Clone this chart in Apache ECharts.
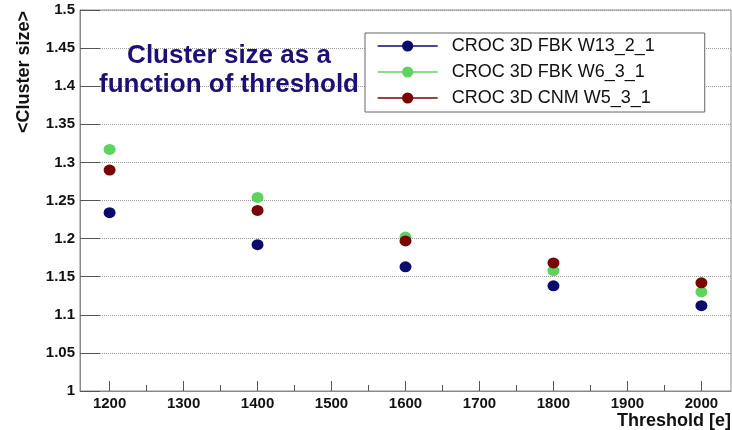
<!DOCTYPE html>
<html><head><meta charset="utf-8">
<script src="https://cdn.jsdelivr.net/npm/echarts@6/dist/echarts.min.js"></script>
<style>html,body{margin:0;padding:0;background:#fff}#c{width:732px;height:430px}</style>
</head><body><div id="c"></div>
<script>
const thresholds = [1200, 1400, 1600, 1800, 2000];
const seriesNames = ['CROC 3D FBK W13_2_1', 'CROC 3D FBK W6_3_1', 'CROC 3D CNM W5_3_1'];
const fbkW13 = [1.234, 1.192, 1.163, 1.138, 1.112];
const fbkW6 = [1.317, 1.254, 1.202, 1.158, 1.130];
const cnmW5 = [1.290, 1.237, 1.197, 1.168, 1.142];
const xMajorTicks = [1200, 1300, 1400, 1500, 1600, 1700, 1800, 1900, 2000];
const xMinorTicks = [1250, 1350, 1450, 1550, 1650, 1750, 1850, 1950];
const colors = ['#0b0b6e', '#5fd35f', '#7a0505'];
const font = '"Liberation Sans", Arial, sans-serif';

const chart = echarts.init(document.getElementById('c'));
const seriesData = [fbkW13, fbkW6, cnmW5];
const series = seriesData.map((vals, i) => ({
  name: seriesNames[i],
  type: 'line',
  xAxisIndex: 0,
  data: thresholds.map((t, j) => [t, vals[j]]),
  symbol: 'circle',
  symbolSize: [12, 11],
  itemStyle: { color: colors[i] },
  lineStyle: { color: colors[i], width: 1.3, opacity: 0 },
  z: 5 + (i === 1 ? 0 : i),
  animation: false
}));

chart.setOption({
  animation: false,
  grid: { left: 80, right: 1, top: 10, bottom: 39, show: true, borderColor: '#8a8a8a', borderWidth: 1, backgroundColor: 'transparent' },
  title: {
    text: 'Cluster size as a\nfunction of threshold',
    left: 224, top: 36, textAlign: 'center',
    textStyle: { fontFamily: font, fontWeight: 'bold', fontSize: 26, lineHeight: 29, color: '#1b1076' }
  },
  legend: {
    orient: 'vertical', left: 365, top: 33,
    padding: [4, 50, 5, 12],
    itemWidth: 60, itemHeight: 14, itemGap: 8,
    backgroundColor: '#fff', borderColor: '#666', borderWidth: 1,
    data: seriesNames,
    itemStyle: { borderWidth: 0 },
    lineStyle: { opacity: 1, width: 1.3, type: 'solid' },
    textStyle: { fontFamily: font, fontSize: 18, color: '#111', padding: [0, 0, 0, 9] },
    z: 10
  },
  xAxis: [{
    type: 'value', min: 1160, max: 2040,
    axisLine: { show: true, lineStyle: { color: '#8a8a8a', width: 1 } },
    axisTick: { show: true, inside: true, length: 10, customValues: xMajorTicks, lineStyle: { color: '#555' } },
    axisLabel: { customValues: xMajorTicks, formatter: v => String(v), fontFamily: font, fontWeight: 'bold', fontSize: 15, color: '#111', margin: 5 },
    splitLine: { show: false }
  }, {
    type: 'value', min: 1160, max: 2040, position: 'bottom',
    axisLine: { show: false },
    axisTick: { show: true, inside: true, length: 6, customValues: xMinorTicks, lineStyle: { color: '#555' } },
    axisLabel: { show: false },
    splitLine: { show: false }
  }],
  yAxis: {
    type: 'value', min: 1, max: 1.5, interval: 0.05,
    axisLine: { show: true, lineStyle: { color: '#8a8a8a', width: 1 } },
    axisTick: { show: true, inside: true, length: 20, lineStyle: { color: '#555', width: 1 } },
    axisLabel: { fontFamily: font, fontWeight: 'bold', fontSize: 15, color: '#111', margin: 5 },
    splitLine: { show: true, lineStyle: { color: '#999', type: [1, 1], width: 1 } }
  },
  graphic: [
    { type: 'text', x: 24, y: 72, rotation: Math.PI / 2,
      style: { text: '<Cluster size>', fontFamily: font, fontWeight: 'bold', fontSize: 18, fill: '#111', align: 'center', verticalAlign: 'middle' } },
    { type: 'text', x: 731, y: 421,
      style: { text: 'Threshold [e]', fontFamily: font, fontWeight: 'bold', fontSize: 18, fill: '#111', align: 'right', verticalAlign: 'middle' } }
  ],
  series: series
});
</script></body></html>
